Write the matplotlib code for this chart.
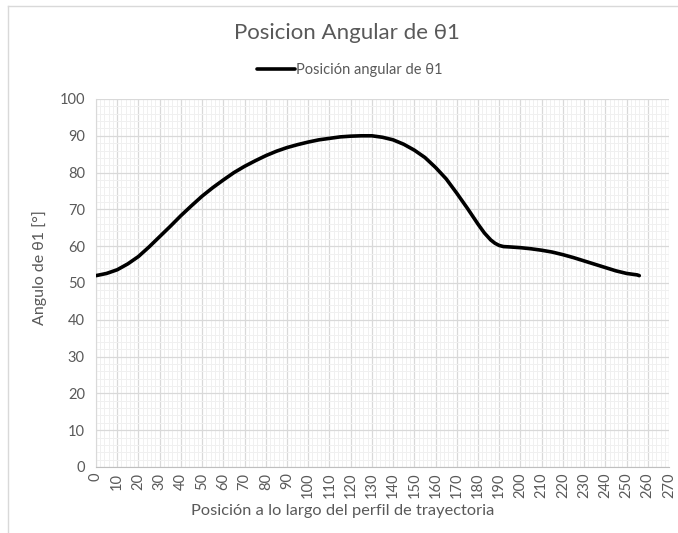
import matplotlib
matplotlib.use("Agg")
import matplotlib.pyplot as plt
from matplotlib.lines import Line2D
from matplotlib.ticker import MultipleLocator

plt.rcParams['font.family'] = ['Lato', 'DejaVu Sans']

title = "Posicion Angular de θ1"
series_name = "Posición angular de θ1"
xlabel = "Posición a lo largo del perfil de trayectoria"
ylabel = "Angulo de θ1 [°]"

x_pos = [0, 5, 10, 15, 20, 25, 30, 35, 40, 45, 50, 55, 60, 65, 70, 75, 80, 85, 90, 95,
         100, 105, 110, 115, 120, 125, 130, 135, 140, 145, 150, 155, 160, 165, 170, 175,
         180, 183, 186, 188, 190, 192, 195, 200, 205, 210, 215, 220, 225, 230, 235, 240,
         245, 250, 255, 256]
theta1 = [52.0, 52.6, 53.6, 55.2, 57.2, 59.8, 62.6, 65.4, 68.3, 71.0, 73.6, 75.9, 78.0, 80.0,
          81.7, 83.2, 84.6, 85.8, 86.8, 87.6, 88.3, 88.9, 89.3, 89.7, 89.9, 90.0, 90.0, 89.6,
          88.9, 87.7, 86.1, 84.1, 81.4, 78.3, 74.4, 70.3, 66.0, 63.6, 61.7, 60.8, 60.2, 59.9,
          59.8, 59.6, 59.3, 58.9, 58.4, 57.7, 56.9, 56.0, 55.1, 54.2, 53.3, 52.6, 52.2, 52.0]

fig = plt.figure(figsize=(6.78, 5.33), dpi=100)
ax = fig.add_axes([96/678, 1-467/533, (669-96)/678, (467-99)/533])

ax.plot(x_pos, theta1, color='black', lw=2.6, solid_capstyle='round',
        solid_joinstyle='round', label=series_name, zorder=3)

ax.set_xlim(0, 270)
ax.set_ylim(0, 100)
ax.xaxis.set_major_locator(MultipleLocator(10))
ax.yaxis.set_major_locator(MultipleLocator(10))
ax.xaxis.set_minor_locator(MultipleLocator(2))
ax.yaxis.set_minor_locator(MultipleLocator(2))
ax.grid(which='major', color='#d9d9d9', lw=0.9, zorder=0)
ax.grid(which='minor', color='#f0f0f0', lw=0.7, zorder=0)
ax.set_axisbelow(True)
for s in ['top', 'right']:
    ax.spines[s].set_visible(False)
ax.spines['left'].set_color('#d9d9d9')
ax.spines['bottom'].set_color('#bfbfbf')
ax.tick_params(which='both', length=0, colors='#595959', labelsize=10.5)
ax.tick_params(axis='x', labelrotation=90, pad=4)
ax.tick_params(axis='y', pad=8)

fig.text(343/678, 1-511/533, xlabel, ha='center', va='center', color='#595959', fontsize=11.8)
fig.text(40/678, 1-268/533, ylabel, ha='center', va='center', rotation=90,
         color='#595959', fontsize=11.5)

fig.text(347/678, 1-33/533, title, ha='center', va='center', fontsize=16, color='#595959')
leg = fig.legend(loc='center', bbox_to_anchor=(350/678, 1-70/533), frameon=False,
                 fontsize=10.5, handlelength=2.6, handletextpad=0.1, labelcolor='#595959')

fig.add_artist(Line2D([8/678, 8/678], [0, 1-6/533], transform=fig.transFigure, color='#d9d9d9', lw=1))
fig.add_artist(Line2D([8/678, 1], [1-6/533, 1-6/533], transform=fig.transFigure, color='#d9d9d9', lw=1))

fig.savefig('out.png', dpi=100, facecolor='white')
